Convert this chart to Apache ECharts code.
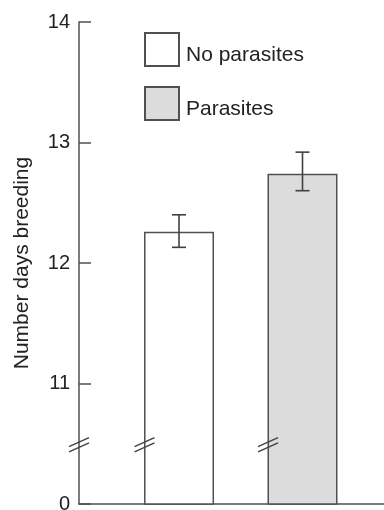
<!DOCTYPE html>
<html>
<head>
<meta charset="utf-8">
<script src="https://cdn.jsdelivr.net/npm/echarts@6/dist/echarts.min.js"></script>
<style>html,body{margin:0;padding:0;background:#fff;}#c{width:384px;height:510px;}</style>
</head>
<body>
<div id="c"></div>
<script>
// ---- data ----
var groups = ['No parasites', 'Parasites'];
var groupX = [1, 2];
var means = [12.26, 12.74];
var errLow = [12.13, 12.60];
var errHigh = [12.40, 12.92];
var yTickValues = [10, 11, 12, 13, 14];
var yTickLabels = ['0', '11', '12', '13', '14'];
var breakValue = 10.5;
var yName = 'Number days breeding';

// ---- chart ----
var FONT = '"Liberation Sans", Arial, Helvetica, sans-serif';
var BAR_W = 70;
var XMIN = 0.19, XMAX = 2.66;
var fills = ['#ffffff', '#dcdcdc'];
var chart = echarts.init(document.getElementById('c'), null, {renderer: 'canvas'});

var barSeries = groups.map(function (g, i) {
  return {
    name: g,
    type: 'bar',
    barWidth: BAR_W,
    barGap: '-100%',
    data: [[groupX[i], means[i]]],
    itemStyle: {color: fills[i], borderColor: '#505050', borderWidth: 1.5},
    emphasis: {disabled: true},
    silent: true,
    z: 2
  };
});

var errData = groups.map(function (g, i) { return [groupX[i], errLow[i], errHigh[i]]; });

var breakData = [[XMIN, breakValue, 0]].concat(groupX.map(function (x) { return [x, breakValue, 1]; }));

var option = {
  animation: false,
  backgroundColor: '#fff',
  grid: {left: 79, right: 0, top: 22, bottom: 6, containLabel: false, outerBoundsMode: 'none'},
  legend: {
    orient: 'vertical',
    left: 139,
    top: 27,
    icon: 'rect',
    itemWidth: 34,
    itemHeight: 33,
    itemGap: 19,
    data: groups,
    selectedMode: false,
    formatter: '{t|{name}}',
    textStyle: {
      fontFamily: FONT, fontSize: 21, color: '#222',
      rich: {t: {fontFamily: FONT, fontSize: 21, color: '#222', padding: [11, 0, 0, 2]}}
    }
  },
  xAxis: {
    type: 'value',
    min: XMIN,
    max: XMAX,
    axisLine: {show: true, onZero: false, lineStyle: {color: '#505050', width: 1.5}},
    axisTick: {show: false},
    axisLabel: {show: false},
    splitLine: {show: false}
  },
  yAxis: {
    type: 'value',
    min: 10,
    max: 14,
    interval: 1,
    name: yName,
    nameLocation: 'middle',
    nameRotate: 90,
    nameGap: 46,
    nameTextStyle: {fontFamily: FONT, fontSize: 21, color: '#222'},
    axisLine: {show: true, lineStyle: {color: '#505050', width: 1.5}},
    axisTick: {show: true, inside: true, length: 12, lineStyle: {color: '#505050', width: 1.5}},
    axisLabel: {
      margin: 9,
      fontFamily: FONT,
      fontSize: 20,
      color: '#222',
      formatter: function (v) {
        var k = yTickValues.indexOf(v);
        return k >= 0 ? yTickLabels[k] : '';
      }
    },
    splitLine: {show: false}
  },
  series: barSeries.concat([
    {
      name: 'err',
      type: 'custom',
      silent: true,
      z: 5,
      data: errData,
      renderItem: function (params, api) {
        var lo = api.coord([api.value(0), api.value(1)]);
        var hi = api.coord([api.value(0), api.value(2)]);
        var cap = 7;
        var st = {stroke: '#404040', lineWidth: 1.6};
        return {
          type: 'group',
          children: [
            {type: 'line', shape: {x1: lo[0], y1: lo[1], x2: hi[0], y2: hi[1]}, style: st},
            {type: 'line', shape: {x1: lo[0] - cap, y1: lo[1], x2: lo[0] + cap, y2: lo[1]}, style: st},
            {type: 'line', shape: {x1: hi[0] - cap, y1: hi[1], x2: hi[0] + cap, y2: hi[1]}, style: st}
          ]
        };
      }
    },
    {
      name: 'breaks',
      type: 'custom',
      silent: true,
      z: 6,
      clip: false,
      data: breakData,
      renderItem: function (params, api) {
        var p = api.coord([api.value(0), api.value(1)]);
        var cx = p[0] - (api.value(2) === 1 ? BAR_W / 2 - 0.5 : 0);
        var cy = p[1] + 1;
        var st = {stroke: '#404040', lineWidth: 1.4};
        var dx = 10, dy = 4.5, off = 2.6;
        return {
          type: 'group',
          children: [
            {type: 'line', shape: {x1: cx - dx, y1: cy + dy - off, x2: cx + dx, y2: cy - dy - off}, style: st},
            {type: 'line', shape: {x1: cx - dx, y1: cy + dy + off, x2: cx + dx, y2: cy - dy + off}, style: st}
          ]
        };
      }
    }
  ])
};
chart.setOption(option);
</script>
</body>
</html>
